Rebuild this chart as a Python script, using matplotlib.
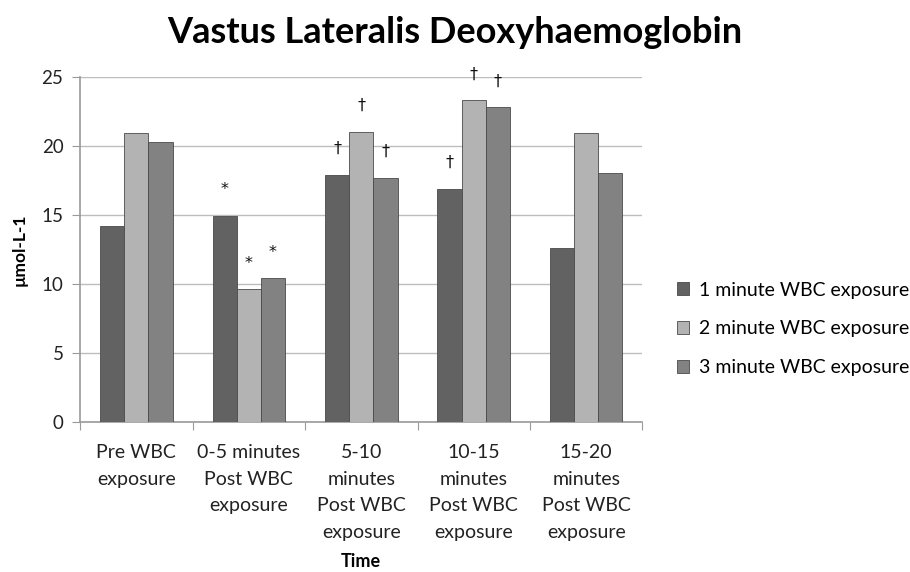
import numpy as np
import matplotlib
matplotlib.use("Agg")
import matplotlib.pyplot as plt

plt.rcParams["font.family"] = ["Lato", "DejaVu Sans"]

categories = [
    "Pre WBC\nexposure",
    "0-5 minutes\nPost WBC\nexposure",
    "5-10\nminutes\nPost WBC\nexposure",
    "10-15\nminutes\nPost WBC\nexposure",
    "15-20\nminutes\nPost WBC\nexposure",
]
series_names = [
    "1 minute WBC exposure",
    "2 minute WBC exposure",
    "3 minute WBC exposure",
]
one_min = [14.2, 14.9, 17.9, 16.9, 12.6]
two_min = [20.9, 9.6, 21.0, 23.3, 20.9]
three_min = [20.3, 10.4, 17.7, 22.8, 18.0]

# significance marks above bars ("" = none)
marks_one = ["", "*", "†", "†", ""]
marks_two = ["", "*", "†", "†", ""]
marks_three = ["", "*", "†", "†", ""]

colors = ["#626262", "#b3b3b3", "#828282"]
edge = "#4a4a4a"

fig = plt.figure(figsize=(9.1, 5.72), dpi=100)
ax = fig.add_axes([0.088, 0.262, 0.618, 0.604])

x = np.arange(len(categories))
w = 0.215
all_series = [one_min, two_min, three_min]
all_marks = [marks_one, marks_two, marks_three]

for i, (vals, marks) in enumerate(zip(all_series, all_marks)):
    pos = x + (i - 1) * w
    ax.bar(pos, vals, width=w, color=colors[i], edgecolor=edge,
           linewidth=0.6, label=series_names[i], zorder=3)
    for px, v, m in zip(pos, vals, marks):
        if m:
            ax.text(px, v + 1.9, m, ha="center", va="center",
                    fontsize=11.5, color="#111111",
                    family=["DejaVu Sans"], zorder=4)

ax.set_xlim(-0.5, len(categories) - 0.5)
ax.set_ylim(0, 25)
ax.set_yticks(np.arange(0, 26, 5))
ax.yaxis.grid(True, color="#bdbdbd", linewidth=1.0, zorder=0)
ax.set_axisbelow(True)

ax.set_xticks(np.arange(-0.5, len(categories), 1.0))
ax.set_xticklabels([])
ax.set_xticks(x, minor=True)
ax.set_xticklabels(categories, minor=True, fontsize=14, color="#222222",
                   linespacing=1.68, va="top")
ax.tick_params(axis="x", which="minor", length=0, pad=16)
ax.tick_params(axis="x", which="major", length=6, color="#9a9a9a", direction="out")
ax.tick_params(axis="y", length=6, color="#9a9a9a", labelsize=13.5,
               labelcolor="#222222", pad=6)

for side in ["top", "right"]:
    ax.spines[side].set_visible(False)
for side in ["left", "bottom"]:
    ax.spines[side].set_color("#9a9a9a")
    ax.spines[side].set_linewidth(1.2)

ax.set_ylabel("µmol-L-1", fontsize=12.5, fontweight="bold", labelpad=10)
ax.set_xlabel("Time", fontsize=13, fontweight="bold", labelpad=9)

fig.suptitle("Vastus Lateralis Deoxyhaemoglobin", fontsize=26,
             fontweight="bold", x=0.5, y=0.972)

ax.legend(loc="center left", bbox_to_anchor=(1.03, 0.27), frameon=False,
          fontsize=14, handlelength=0.65, handleheight=0.65,
          labelspacing=1.12, handletextpad=0.5)

fig.savefig("out.png", dpi=100)
